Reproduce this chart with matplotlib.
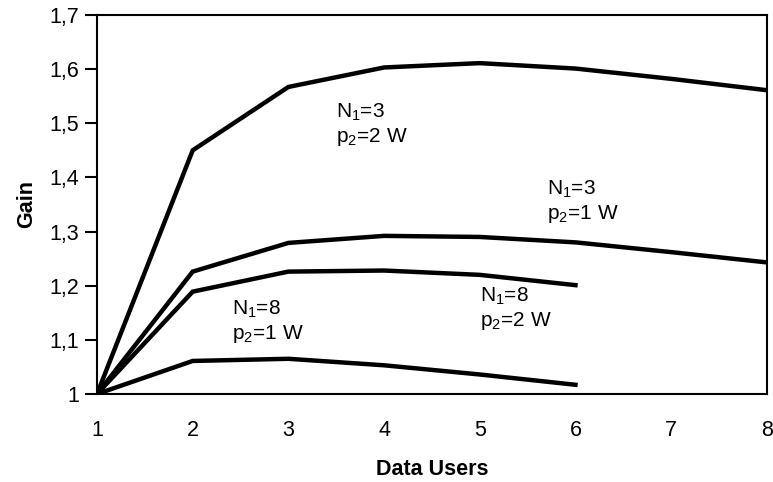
#!/usr/bin/env python3
# Gain vs number of data users, four N1 / p2 combinations
import numpy as np
import matplotlib
matplotlib.use("Agg")
from matplotlib import pyplot as plt

##################---------Data---------########################################
users_long = [1, 2, 3, 4, 5, 6, 7, 8]
users_short = [1, 2, 3, 4, 5, 6]
gain_n3_p2w = [1.0, 1.45, 1.567, 1.603, 1.611, 1.601, 1.582, 1.561]
gain_n3_p1w = [1.0, 1.226, 1.279, 1.292, 1.290, 1.280, 1.262, 1.243]
gain_n8_p2w = [1.0, 1.189, 1.226, 1.228, 1.220, 1.201]
gain_n8_p1w = [1.0, 1.061, 1.065, 1.053, 1.036, 1.017]

x_ticks = [1, 2, 3, 4, 5, 6, 7, 8]
y_ticks = [1.0, 1.1, 1.2, 1.3, 1.4, 1.5, 1.6, 1.7]
y_tick_labels = ["1", "1,1", "1,2", "1,3", "1,4", "1,5", "1,6", "1,7"]

# curve annotations: (x, y, text)
labels = [
    (3.50, 1.497, "N$_1$=3\np$_2$=2 W"),
    (5.70, 1.355, "N$_1$=3\np$_2$=1 W"),
    (2.41, 1.133, "N$_1$=8\np$_2$=1 W"),
    (5.00, 1.157, "N$_1$=8\np$_2$=2 W"),
]

##################---------Plot---------########################################
plt.rcParams["font.family"] = ["Liberation Sans", "DejaVu Sans"]
plt.rcParams["mathtext.default"] = "regular"

fig = plt.figure(figsize=(7.73, 4.82), dpi=100)
ax = fig.add_axes([0.1255, 0.1826, 0.8665, 0.7864])

lw = 3.2
ax.plot(users_long, gain_n3_p2w, color="black", lw=lw, solid_joinstyle="miter")
ax.plot(users_long, gain_n3_p1w, color="black", lw=lw, solid_joinstyle="miter")
ax.plot(users_short, gain_n8_p2w, color="black", lw=lw, solid_joinstyle="miter")
ax.plot(users_short, gain_n8_p1w, color="black", lw=lw, solid_joinstyle="miter")

for x, y, t in labels:
    ax.text(x, y, t, fontsize=15, ha="left", va="center", linespacing=1.2)

ax.set_xlim(1, 8)
ax.set_ylim(1.0, 1.7)
ax.set_xticks(x_ticks)
ax.set_xticklabels([str(v) for v in x_ticks], fontsize=15.5)
ax.set_yticks(y_ticks)
ax.set_yticklabels(y_tick_labels, fontsize=15.5)
ax.tick_params(axis="x", length=0, pad=19)
ax.tick_params(axis="y", length=9, width=1.5, pad=4, direction="out")

for s in ax.spines.values():
    s.set_linewidth(1.5)

ax.set_xlabel("Data Users", fontsize=15.5, fontweight="bold", labelpad=13)
ax.set_ylabel("Gain", fontsize=15.5, fontweight="bold", labelpad=9)

fig.savefig("out.png", dpi=100)
